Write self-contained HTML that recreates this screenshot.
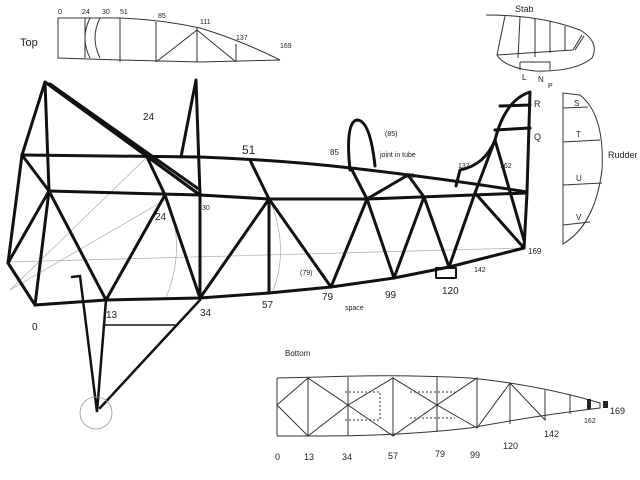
<!DOCTYPE html>
<html><head><meta charset="utf-8"><style>
html,body{margin:0;padding:0;background:#fff}
svg{display:block}
text{font-family:"Liberation Sans",sans-serif;fill:#222}
</style></head><body>
<svg width="640" height="480" viewBox="0 0 640 480" xmlns="http://www.w3.org/2000/svg">
<rect width="640" height="480" fill="#fff"/>
<!-- TOP VIEW -->
<g stroke="#333" stroke-width="1" fill="none">
<path d="M58,18 L100,18 Q150,17 200,28 Q240,40 280,60 L200,62 L120,60 L58,58 Z"/>
<line x1="85" y1="18" x2="85" y2="58"/>
<path d="M85,18 L100,18 M90,18 Q80,38 90,58 M100,18 Q90,38 100,58"/>
<line x1="120" y1="18" x2="120" y2="62"/>
<line x1="156" y1="22" x2="156" y2="62"/>
<line x1="197" y1="28" x2="197" y2="62"/>
<line x1="236" y1="44" x2="236" y2="62"/>
<path d="M156,62 L197,30 L236,62"/>
</g>
<text x="20" y="46" font-size="11">Top</text>
<g font-size="7"><text x="58" y="14">0</text><text x="82" y="14">24</text><text x="102" y="14">30</text><text x="120" y="14">51</text><text x="158" y="18">85</text><text x="200" y="24">111</text><text x="236" y="40">137</text><text x="280" y="48">169</text></g>
<!-- STAB -->
<g stroke="#333" stroke-width="1" fill="none">
<path d="M486,15 Q540,15 580,30 Q600,42 592,58 Q575,72 535,71 Q505,68 497,55 L505,16"/>
<line x1="497" y1="55" x2="573" y2="50"/>
<line x1="520" y1="17" x2="518" y2="58"/>
<line x1="535" y1="19" x2="535" y2="57"/>
<line x1="550" y1="21" x2="550" y2="53"/>
<line x1="565" y1="26" x2="565" y2="51"/>
<path d="M573,50 L582,35 M575,50 L584,36"/>
<path d="M520,62 L550,62 L550,70 M520,62 L520,70"/>
</g>
<text x="515" y="12" font-size="9">Stab</text>
<text x="522" y="80" font-size="8">L</text><text x="538" y="82" font-size="8">N</text><text x="548" y="88" font-size="7">P</text>
<!-- RUDDER -->
<g stroke="#333" stroke-width="1" fill="none">
<path d="M563,93 L563,244 Q595,225 602,170 Q605,115 580,95 Z"/>
<line x1="563" y1="108" x2="588" y2="107"/>
<line x1="563" y1="142" x2="600" y2="140"/>
<line x1="563" y1="185" x2="602" y2="183"/>
<line x1="563" y1="225" x2="590" y2="222"/>
</g>
<g font-size="8"><text x="574" y="106">S</text><text x="576" y="137">T</text><text x="576" y="181">U</text><text x="576" y="220">V</text></g>
<text x="608" y="158" font-size="9">Rudder</text>
<!-- thin construction lines -->
<g stroke="#aaa" stroke-width="0.7" fill="none">
<line x1="8" y1="262" x2="524" y2="248"/>
<line x1="10" y1="290" x2="147" y2="157"/>
<line x1="10" y1="290" x2="165" y2="200"/>
<path d="M147,160 Q195,230 165,300"/>
<path d="M270,200 Q290,250 272,293"/>
</g>
<!-- FUSELAGE -->
<g stroke="#111" stroke-width="3" fill="none" stroke-linecap="round" stroke-linejoin="round">
<path d="M22,155 L200,157 Q280,160 351,168 Q440,178 527,192"/>
<path d="M49,191 L200,195 L269,199 L367,199 L527,193"/>
<path d="M35,305 L106,300 L200,298 L269,293 L331,287 L394,278 L449,267 L524,248"/>
<path d="M22,155 L8,263 L35,305"/>
<path d="M22,155 L49,191 L35,305"/>
<path d="M45,82 L22,155 M45,82 L49,191 M45,82 L200,195"/>
<path d="M48,84 L196,192 M50,84 L200,190"/>
<path d="M196,80 L181,157 M196,80 L200,195 L200,298"/>
<path d="M49,191 L106,300 L165,195 L200,298 L269,199 L269,293 M269,199 L331,287 L367,199 L394,278 L424,197 L449,267 L475,193 L524,248 L527,193"/>
<path d="M147,157 L165,195 M250,160 L269,199 M351,168 L367,199 L408,175 L424,197"/>
<path d="M8,263 L49,191 M8,263 L35,305"/>
<path d="M527,192 L530,92 Q505,100 495,140 Q485,165 460,170 L456,186"/>
<path d="M475,193 L495,140 M495,130 L530,128 M500,106 L530,105 M495,140 L524,240"/>
<path d="M375,166 Q370,120 357,120 Q345,122 350,170"/>
<rect x="436" y="268" width="20" height="10" stroke-width="2"/>
</g>
<!-- landing gear -->
<g stroke="#111" stroke-width="2.5" fill="none" stroke-linecap="round">
<path d="M72,277 L80,276 L97,412 L106,300"/>
<path d="M200,300 L100,408"/>
<line x1="105" y1="325" x2="175" y2="325" stroke-width="1.5"/>
</g>
<circle cx="96" cy="413" r="16" stroke="#999" stroke-width="0.8" fill="none"/>
<!-- labels fuselage -->
<g font-size="10">
<text x="32" y="330">0</text><text x="106" y="318">13</text><text x="200" y="316">34</text><text x="262" y="308">57</text><text x="322" y="300">79</text><text x="385" y="298">99</text><text x="442" y="294">120</text><text x="474" y="272" font-size="7">142</text><text x="528" y="254" font-size="8">169</text>
<text x="242" y="154" font-size="12">51</text><text x="143" y="120">24</text><text x="155" y="220">24</text><text x="202" y="210" font-size="7">30</text>
<text x="330" y="155" font-size="8">85</text><text x="404" y="178" font-size="7">111</text><text x="458" y="168" font-size="7">137</text><text x="500" y="168" font-size="7">162</text>
<text x="385" y="136" font-size="7">(85)</text><text x="380" y="157" font-size="7">joint in tube</text>
<text x="345" y="310" font-size="7">space</text><text x="300" y="275" font-size="7">(79)</text>
<text x="534" y="107" font-size="9">R</text><text x="534" y="140" font-size="9">Q</text>
</g>
<!-- BOTTOM VIEW -->
<text x="285" y="356" font-size="8">Bottom</text>
<g stroke="#333" stroke-width="1" fill="none">
<path d="M277,378 L320,377 Q400,374 470,378 Q540,385 600,403 L600,408 Q540,415 470,428 Q400,436 320,436 L277,436"/>
<line x1="277" y1="378" x2="277" y2="436"/>
<path d="M277,405 L308,378 L348,405 L393,378 L437,405 L477,378 L477,428 L510,383 L545,420 L545,390"/>
<path d="M277,405 L308,436 L348,405 L393,436 L437,405 L477,428"/>
<line x1="308" y1="378" x2="308" y2="436"/><line x1="348" y1="377" x2="348" y2="436"/><line x1="393" y1="377" x2="393" y2="436"/>
<line x1="437" y1="377" x2="437" y2="432"/><line x1="510" y1="383" x2="510" y2="424"/><line x1="570" y1="394" x2="570" y2="414"/>
<path d="M345,392 L380,392 L380,420 L345,420" stroke-dasharray="2,2"/>
<path d="M410,392 L455,392 M410,418 L455,418" stroke-dasharray="2,2"/>
</g>
<rect x="587" y="399" width="4" height="10" fill="#222"/><rect x="603" y="401" width="5" height="7" fill="#222"/>
<g font-size="9"><text x="275" y="460">0</text><text x="304" y="460">13</text><text x="342" y="460">34</text><text x="388" y="459">57</text><text x="435" y="457">79</text><text x="470" y="458">99</text><text x="503" y="449">120</text><text x="544" y="437">142</text><text x="584" y="423" font-size="7">162</text><text x="610" y="414">169</text></g>
</svg>
</body></html>
